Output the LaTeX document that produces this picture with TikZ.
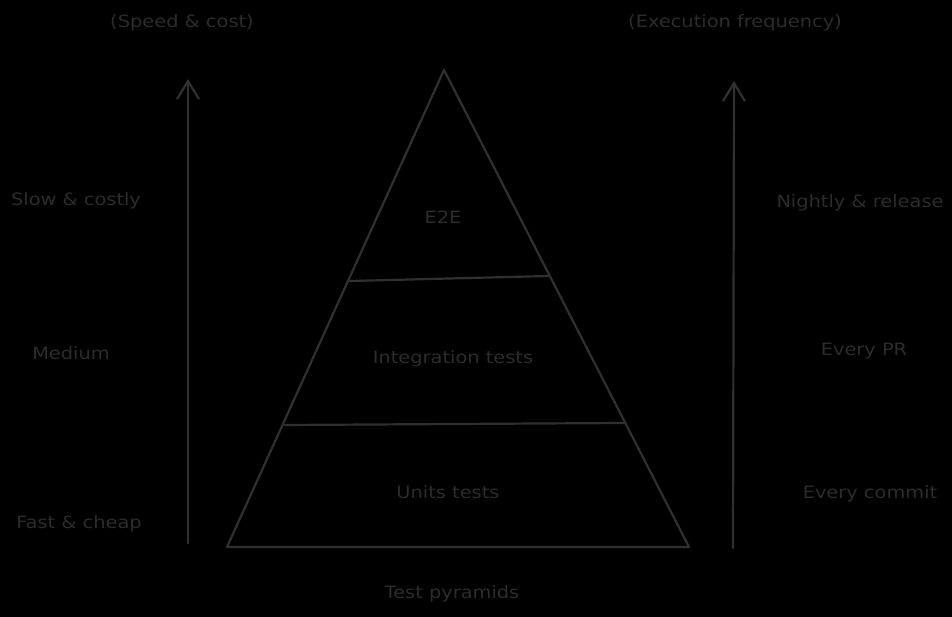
\documentclass[tikz,border=0pt]{standalone}
\usepackage{fontspec}
\setmainfont{DejaVu Sans}[FakeStretch=1.14]
\usetikzlibrary{arrows.meta}
\definecolor{strokec}{HTML}{303030}
\definecolor{textc}{HTML}{2C2C2C}
\begin{document}
\begin{tikzpicture}[x=1pt,y=-1pt,
  lbl/.style={text=textc,font=\fontsize{17}{20}\selectfont,inner sep=0pt,anchor=center},
  edge/.style={draw=strokec,line width=2.2pt,line join=round,line cap=round},
  axis/.style={draw=strokec,line width=2.2pt,line cap=round,-{Straight Barb[length=18pt,width=22pt,line width=2.2pt]}}]
\fill[black] (0,0) rectangle (952,617);
\useasboundingbox (0,0) rectangle (952,617);
% pyramid
\coordinate (apex) at (444,70);
\coordinate (bl) at (227,547);
\coordinate (br) at (689,547);
\coordinate (d1l) at (350,281);
\coordinate (d1r) at (548,276);
\coordinate (d2l) at (285,425);
\coordinate (d2r) at (624,423);
\draw[edge] (apex) -- (br) -- (bl) -- cycle;
\draw[edge] (d1l) -- (d1r);
\draw[edge] (d2l) -- (d2r);
% arrows
\coordinate (la0) at (188,543);
\coordinate (la1) at (188,79);
\coordinate (ra0) at (733,548);
\coordinate (ra1) at (734,81);
\draw[axis] (la0) -- (la1);
\draw[axis] (ra0) -- (ra1);
% labels
\node[lbl] (speed) at (182,23) {(Speed \& cost)};
\node[lbl] (freq) at (735,23) {(Execution frequency)};
\node[lbl] (slow) at (76,201) {Slow \& costly};
\node[lbl] (medium) at (71,353) {Medium};
\node[lbl] (fast) at (79,524) {Fast \& cheap};
\node[lbl] (e2e) at (443,217) {E2E};
\node[lbl] (integ) at (453,359) {Integration tests};
\node[lbl] (units) at (448,492) {Units tests};
\node[lbl] (nightly) at (860,203) {Nightly \& release};
\node[lbl] (everypr) at (864,351) {Every PR};
\node[lbl] (commit) at (870,494) {Every commit};
\node[lbl] (title) at (452,594) {Test pyramids};
\end{tikzpicture}
\end{document}
